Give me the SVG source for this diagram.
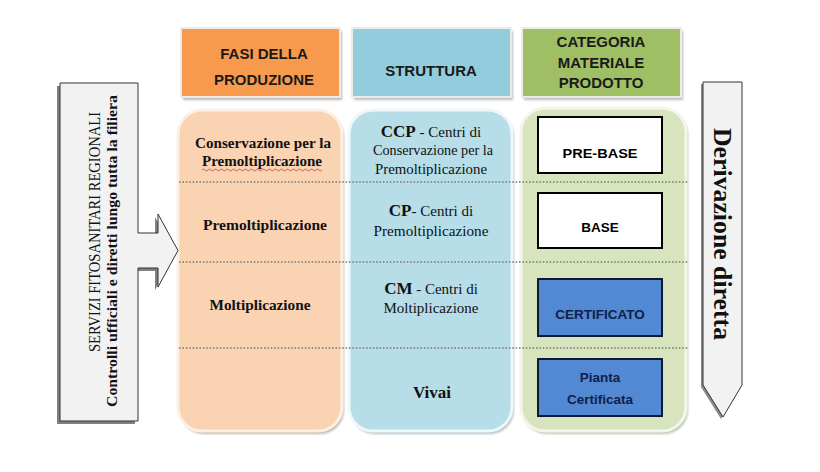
<svg xmlns="http://www.w3.org/2000/svg" width="820" height="472" viewBox="0 0 820 472">
<defs>
<style>
.hdr{font-family:"Liberation Sans",Arial,sans-serif;font-weight:bold;font-size:15px;fill:#1a1a1a;text-anchor:middle}
.sb{font-family:"Liberation Serif","Times New Roman",serif;font-weight:bold;fill:#111;text-anchor:middle}
.sr{font-family:"Liberation Serif","Times New Roman",serif;fill:#111;text-anchor:middle}
.box{font-family:"Liberation Sans",Arial,sans-serif;font-weight:bold;font-size:13.5px;text-anchor:middle}
.div{stroke:#7a7a7a;stroke-width:1.6;stroke-dasharray:1.6 1.8;fill:none}
.shadow{fill:#a8998c;opacity:0.7}
</style>
<filter id="blur" x="-10%" y="-10%" width="120%" height="120%"><feGaussianBlur stdDeviation="1.2"/></filter>
<clipPath id="clipccp"><rect x="350" y="110" width="163" height="66"/></clipPath>
</defs>
<rect width="820" height="472" fill="#ffffff"/>

<!-- headers -->
<g id="hdr-fasi">
<rect x="183" y="31" width="159" height="69" class="shadow" filter="url(#blur)"/>
<rect x="181" y="28" width="159" height="69" fill="#f79a4e" stroke="#ebebeb" stroke-width="2"/>
<text class="hdr" x="264" y="59">FASI DELLA</text>
<text class="hdr" x="264" y="85">PRODUZIONE</text>
</g>
<g id="hdr-struttura">
<rect x="354" y="31" width="159" height="69" fill="#9aa4a8" opacity="0.7" filter="url(#blur)"/>
<rect x="352" y="28" width="159" height="69" fill="#93cddd" stroke="#ebebeb" stroke-width="2"/>
<text class="hdr" x="431" y="76">STRUTTURA</text>
</g>
<g id="hdr-categoria">
<rect x="524" y="31" width="159" height="69" fill="#a0a49a" opacity="0.7" filter="url(#blur)"/>
<rect x="522" y="28" width="159" height="69" fill="#9fbf64" stroke="#ebebeb" stroke-width="2"/>
<text class="hdr" x="601" y="47">CATEGORIA</text>
<text class="hdr" x="601" y="68">MATERIALE</text>
<text class="hdr" x="601" y="88">PRODOTTO</text>
</g>

<!-- body panels -->
<g id="col-fasi">
<rect x="180" y="113" width="164" height="321" rx="24" class="shadow" filter="url(#blur)"/>
<rect x="178" y="110" width="164" height="321" rx="24" fill="#f9d3b2" stroke="#fdf0e6" stroke-width="3"/>
<text class="sb" font-size="14.5" x="263" y="148" textLength="136" lengthAdjust="spacingAndGlyphs">Conservazione per la</text>
<text class="sb" font-size="14.5" x="262" y="166" textLength="120" lengthAdjust="spacingAndGlyphs">Premoltiplicazione</text>
<path d="M202,170 q1.5,-2 3,0 t3,0 t3,0 t3,0 t3,0 t3,0 t3,0 t3,0 t3,0 t3,0 t3,0 t3,0 t3,0 t3,0 t3,0 t3,0 t3,0 t3,0 t3,0 t3,0 t3,0 t3,0 t3,0 t3,0 t3,0 t3,0 t3,0 t3,0 t3,0 t3,0 t3,0 t3,0 t3,0 t3,0 t3,0 t3,0 t3,0 t3,0 t3,0 t3,0" fill="none" stroke="#d04040" stroke-width="0.8"/>
<text class="sb" font-size="14.5" x="265" y="230" textLength="124" lengthAdjust="spacingAndGlyphs">Premoltiplicazione</text>
<text class="sb" font-size="14.5" x="260" y="310" textLength="101" lengthAdjust="spacingAndGlyphs">Moltiplicazione</text>
</g>

<g id="col-struttura">
<rect x="351" y="113" width="163" height="321" rx="24" fill="#97a8b0" opacity="0.7" filter="url(#blur)"/>
<rect x="349" y="110" width="163" height="321" rx="24" fill="#b6dde8" stroke="#eef8fb" stroke-width="3"/>
<g clip-path="url(#clipccp)">
<text class="sr" font-size="15" x="431" y="137"><tspan font-weight="bold" font-size="17">CCP</tspan> - Centri di</text>
<text class="sr" font-size="15" x="433" y="155" textLength="120" lengthAdjust="spacingAndGlyphs">Conservazione per la</text>
<text class="sr" font-size="15" x="431" y="174" textLength="112" lengthAdjust="spacingAndGlyphs">Premoltiplicazione</text>
</g>
<text class="sr" font-size="15" x="431" y="216"><tspan font-weight="bold" font-size="17">CP</tspan>- Centri di</text>
<text class="sr" font-size="15" x="431" y="236" textLength="115" lengthAdjust="spacingAndGlyphs">Premoltiplicazione</text>
<text class="sr" font-size="15" x="431" y="294"><tspan font-weight="bold" font-size="17">CM</tspan> - Centri di</text>
<text class="sr" font-size="15" x="431" y="313" textLength="95" lengthAdjust="spacingAndGlyphs">Moltiplicazione</text>
<text class="sb" font-size="17" x="432" y="398">Vivai</text>
</g>

<g id="col-categoria">
<rect x="523" y="111" width="165" height="323" rx="24" fill="#a3ab95" opacity="0.7" filter="url(#blur)"/>
<rect x="521" y="108" width="165" height="323" rx="24" fill="#d7e4bd" stroke="#f3f7ea" stroke-width="3"/>
</g>

<!-- row dividers -->
<g id="connectors">
<line class="div" x1="179" y1="182" x2="688" y2="182"/>
<line class="div" x1="179" y1="262" x2="688" y2="262"/>
<line class="div" x1="179" y1="348" x2="688" y2="348"/>
</g>

<g id="box-prebase">
<rect x="538" y="117" width="124" height="56" fill="#ffffff" stroke="#000" stroke-width="2"/>
<text class="box" x="600" y="158" fill="#000" textLength="75" lengthAdjust="spacingAndGlyphs">PRE-BASE</text>
</g>
<g id="box-base">
<rect x="538" y="193" width="124" height="55" fill="#ffffff" stroke="#000" stroke-width="2"/>
<text class="box" x="600" y="232" fill="#000">BASE</text>
</g>
<g id="box-certificato">
<rect x="538" y="279" width="124" height="57" fill="#5289d2" stroke="#0d1a33" stroke-width="2"/>
<text class="box" x="600" y="319" fill="#10204a">CERTIFICATO</text>
</g>
<g id="box-pianta">
<rect x="538" y="359" width="124" height="57" fill="#5289d2" stroke="#0d1a33" stroke-width="2"/>
<text class="box" x="600" y="382" fill="#10204a">Pianta</text>
<text class="box" x="600" y="404" fill="#10204a">Certificata</text>
</g>

<!-- left arrow -->
<g id="arrow-servizi">
<path d="M57,86 H135 V236 H155 V217 L175,253.5 L155,290 V271 H135 V424 H57 Z" fill="#808080"/>
<path d="M60,83 H138 V233 H158 V214 L178,250.5 L158,287 V268 H138 V421 H60 Z" fill="#f2f2f2" stroke="#333" stroke-width="1"/>
<text class="sr" font-size="17" transform="translate(100,232) rotate(-90)" x="0" y="0" textLength="240" lengthAdjust="spacingAndGlyphs">SERVIZI FITOSANITARI REGIONALI</text>
<text class="sb" font-size="15" transform="translate(117,251) rotate(-90)" x="0" y="0" textLength="312" lengthAdjust="spacingAndGlyphs">Controlli ufficiali e diretti lungo tutta la filiera</text>
</g>

<!-- right arrow -->
<g id="arrow-derivazione">
<path d="M701,84 H740 V387 L721,419 L701,387 Z" fill="#8a8a8a"/>
<path d="M703,82 H742 V385 L723,417 L703,385 Z" fill="#f2f2f2" stroke="#333" stroke-width="1"/>
<text class="sb" font-size="25" transform="translate(714,234) rotate(90)" x="0" y="0" textLength="212" lengthAdjust="spacingAndGlyphs">Derivazione diretta</text>
</g>
</svg>
